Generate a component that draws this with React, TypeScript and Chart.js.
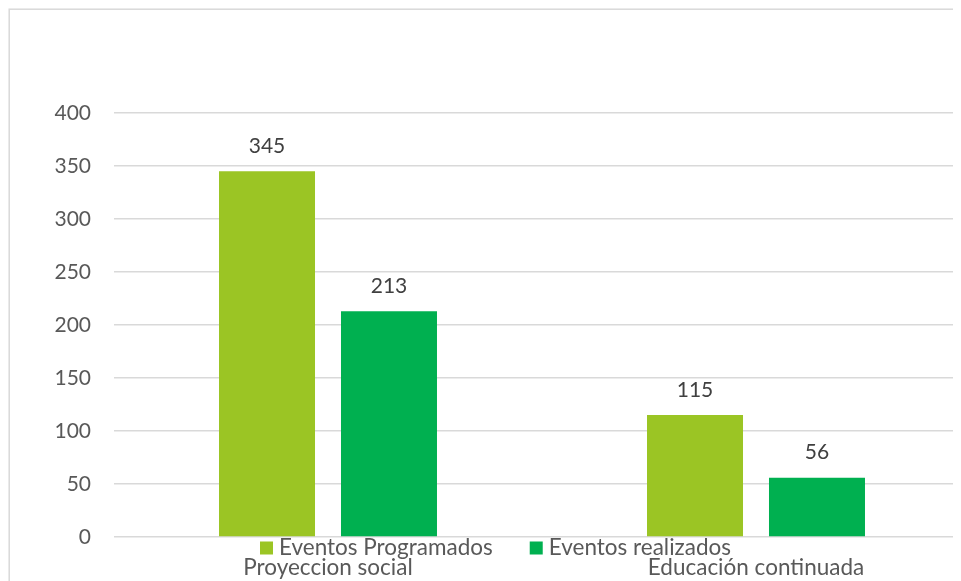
import React, { useEffect, useRef } from "react";
import { Chart, registerables } from "chart.js";

Chart.register(...registerables);

const categories = ["Proyeccion social", "Educación continuada"];
const seriesNames = ["Eventos Programados", "Eventos realizados"];
const programados = [345, 115];
const realizados = [213, 56];
const seriesColors = ["#9BC524", "#00B050"];
const yMin = 0;
const yMax = 400;
const yStep = 50;

const FONT = "Lato, 'Open Sans', sans-serif";

const decorPlugin = {
  id: "decor",
  beforeDraw(chart: any) {
    const ctx = chart.ctx;
    ctx.save();
    ctx.strokeStyle = "#d9d9d9";
    ctx.lineWidth = 1.5;
    ctx.strokeRect(1.2, 1.2, chart.width + 20, chart.height + 20);
    ctx.restore();
  },
  afterDatasetsDraw(chart: any) {
    const ctx = chart.ctx;
    ctx.save();
    ctx.font = `21px ${FONT}`;
    ctx.fillStyle = "#404040";
    ctx.textAlign = "center";
    ctx.textBaseline = "middle";
    chart.data.datasets.forEach((ds: any, i: number) => {
      const meta = chart.getDatasetMeta(i);
      meta.data.forEach((el: any, j: number) => {
        ctx.fillText(String(ds.data[j]), el.x, el.y - 25);
      });
    });
    // legend
    ctx.font = `22.5px ${FONT}`;
    ctx.textAlign = "left";
    let x = 252;
    const cy = 540;
    chart.data.datasets.forEach((ds: any) => {
      ctx.fillStyle = ds.backgroundColor;
      ctx.fillRect(x, cy - 6.5, 13, 13);
      ctx.fillStyle = "#595959";
      ctx.fillText(ds.label, x + 19, cy);
      x += 19 + ctx.measureText(ds.label).width + 37;
    });
    ctx.restore();
  },
};

export default function App() {
  const ref = useRef<HTMLCanvasElement>(null);
  useEffect(() => {
    document.body.style.overflow = "hidden";
    const chart = new Chart(ref.current!, {
      type: "bar",
      data: {
        labels: categories,
        datasets: [
          { label: seriesNames[0], data: programados, backgroundColor: seriesColors[0] },
          { label: seriesNames[1], data: realizados, backgroundColor: seriesColors[1] },
        ],
      },
      options: {
        responsive: false,
        animation: false,
        layout: { padding: { top: 105, right: 8, bottom: 0, left: 0 } },
        datasets: {
          bar: { categoryPercentage: 0.57, barPercentage: 0.787 },
        } as any,
        plugins: {
          legend: { display: false },
          tooltip: { enabled: false },
        },
        scales: {
          x: {
            grid: { display: false, drawTicks: false },
            border: { display: false },
            ticks: { color: "#595959", font: { family: FONT, size: 22.5 }, padding: 17, maxRotation: 0 },
            afterFit(scale: any) {
              scale.height = 44;
            },
          },
          y: {
            min: yMin,
            max: yMax,
            grid: { color: "#d9d9d9", lineWidth: 1.5, drawTicks: false },
            border: { display: false },
            ticks: { stepSize: yStep, color: "#595959", font: { family: FONT, size: 21 }, padding: 23 },
            afterFit(scale: any) {
              scale.width = 106;
            },
          },
        },
      },
      plugins: [decorPlugin],
    });
    return () => chart.destroy();
  }, []);
  return (
    <div style={{ width: 953, height: 573, overflow: "hidden", position: "relative" }}>
      <canvas ref={ref} width={970} height={573} style={{ display: "block" }} />
    </div>
  );
}
